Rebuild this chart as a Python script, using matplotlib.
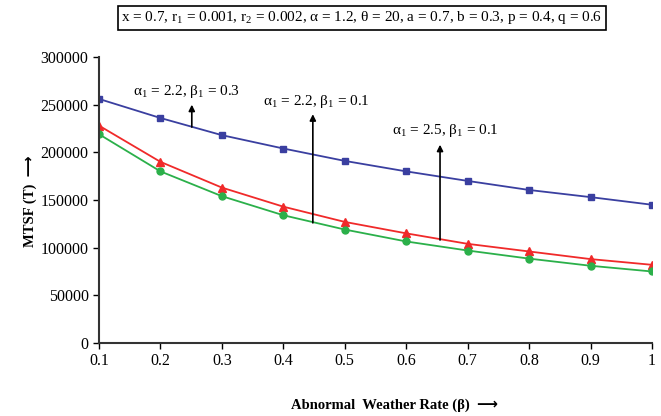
import matplotlib
matplotlib.use("Agg")
import matplotlib.pyplot as plt

plt.rcParams['font.family'] = ['Liberation Serif', 'DejaVu Sans']
plt.rcParams['mathtext.fontset'] = 'custom'
plt.rcParams['mathtext.rm'] = 'Liberation Serif'
plt.rcParams['mathtext.it'] = 'Liberation Serif'
plt.rcParams['mathtext.default'] = 'regular'

beta = [0.1, 0.2, 0.3, 0.4, 0.5, 0.6, 0.7, 0.8, 0.9, 1.0]
mtsf_a22_b03 = [256000, 236000, 218000, 204000, 191000, 180000, 170000, 160500, 153000, 145000]
mtsf_a22_b01 = [228000, 190000, 163000, 143000, 127000, 115000, 104000, 96000, 88000, 82000]
mtsf_a25_b01 = [219000, 180000, 154000, 134000, 119000, 106500, 97000, 88500, 81000, 75000]
xticks = [0.1, 0.2, 0.3, 0.4, 0.5, 0.6, 0.7, 0.8, 0.9, 1]
xtick_labels = ['0.1', '0.2', '0.3', '0.4', '0.5', '0.6', '0.7', '0.8', '0.9', '1']
yticks = [0, 50000, 100000, 150000, 200000, 250000, 300000]

fig = plt.figure(figsize=(6.61, 4.16), dpi=100)
ax = fig.add_axes([0.1498, 0.1755, 0.8366, 0.6875])

ax.plot(beta, mtsf_a22_b03, color='#3a3fa0', lw=1.3, marker='s', ms=5)
ax.plot(beta, mtsf_a22_b01, color='#f02a2a', lw=1.3, marker='^', ms=5.5)
ax.plot(beta, mtsf_a25_b01, color='#2bb04a', lw=1.3, marker='o', ms=5)

ax.set_xlim(0.1, 1.0)
ax.set_ylim(0, 300000)
ax.set_xticks(xticks)
ax.set_xticklabels(xtick_labels)
ax.set_yticks(yticks)
ax.tick_params(labelsize=11.5, direction='out', length=4, width=1)
for s in ['top', 'right']:
    ax.spines[s].set_visible(False)
for s in ['left', 'bottom']:
    ax.spines[s].set_linewidth(1.5)
    ax.spines[s].set_color('#333333')

# annotations
arrows = [
    (0.251, 226500, 250000, 'α$_1$ = 2.2, β$_1$ = 0.3', 0.155, 264000),
    (0.448, 126000, 240000, 'α$_1$ = 2.2, β$_1$ = 0.1', 0.367, 252800),
    (0.655, 108000, 208000, 'α$_1$ = 2.5, β$_1$ = 0.1', 0.577, 223400),
]
for x, y0, y1, txt, tx, ty in arrows:
    ax.annotate('', xy=(x, y1), xytext=(x, y0),
                arrowprops=dict(arrowstyle='-|>', color='black', lw=1.2,
                                mutation_scale=9, shrinkA=0, shrinkB=0))
    ax.text(tx, ty, txt, fontsize=11, ha='left', va='center')

fig.text(362 / 661, 1 - 18 / 416,
         'x = 0.7, r$_1$ = 0.001, r$_2$ = 0.002, α = 1.2, θ = 20, a = 0.7, b = 0.3, p = 0.4, q = 0.6',
         fontsize=11, ha='center', va='center',
         bbox=dict(boxstyle='square,pad=0.25', facecolor='white', edgecolor='black', lw=1.2))

fig.text(291 / 661, 1 - 405 / 416, 'Abnormal  Weather Rate (β)  ⟶', fontsize=10.5,
         fontweight='bold', ha='left', va='center')
fig.text(30 / 661, 1 - 201 / 416, 'MTSF (T)  ⟶', fontsize=10.5, fontweight='bold',
         ha='center', va='center', rotation=90)

fig.savefig('out.png', dpi=100)
